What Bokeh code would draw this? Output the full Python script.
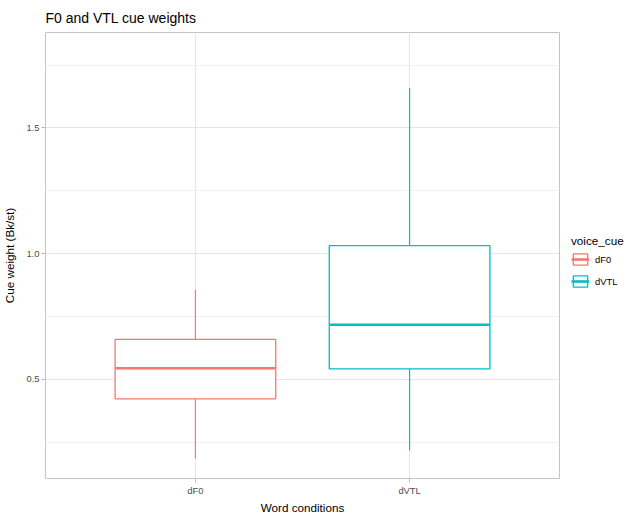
from bokeh.plotting import figure
from bokeh.models import (ColumnDataSource, FactorRange, Range1d, FixedTicker,
                          Legend, LegendItem, NumeralTickFormatter)
from bokeh.transform import dodge
from bokeh.embed import file_html
from bokeh.resources import INLINE

# ---- data ----
categories = ["dF0", "dVTL"]
colors = ["#F8766D", "#00BFC4"]
lower_whisker = [0.185, 0.216]
q1 = [0.422, 0.541]
median = [0.544, 0.717]
q3 = [0.659, 1.032]
upper_whisker = [0.855, 1.659]
y_ticks = [0.5, 1.0, 1.5]
y_minor = [0.25, 0.75, 1.25, 1.75]

FONT = "Liberation Sans"
FRAME_W, FRAME_H = 514, 446

src = ColumnDataSource(dict(cat=categories, color=colors, lo=lower_whisker,
                            q1=q1, med=median, q3=q3, hi=upper_whisker))

p = figure(width=619, height=506, frame_width=FRAME_W, frame_height=FRAME_H,
           output_backend="svg", toolbar_location=None,
           x_range=FactorRange(factors=categories, range_padding=0.2,
                               range_padding_units="absolute"),
           y_range=Range1d(0.105, 1.88),
           title="F0 and VTL cue weights",
           min_border_left=37, min_border_right=0, min_border_top=24,
           min_border_bottom=0)

p.background_fill_color = "white"
p.border_fill_color = "white"
p.outline_line_color = "#C4C4C4"
p.outline_line_width = 1

# title
p.title.text_font = FONT
p.title.text_font_size = "14px"
p.title.text_font_style = "normal"
p.title.text_color = "#000000"
p.title.align = "left"
p.title.standoff = 14

# axes
p.yaxis.ticker = FixedTicker(ticks=y_ticks, minor_ticks=y_minor)
p.yaxis.formatter = NumeralTickFormatter(format="0.0")
for ax in (p.xaxis[0], p.yaxis[0]):
    ax.axis_line_color = None
    ax.major_tick_line_color = "#B8B8B8"
    ax.major_tick_out = 4
    ax.major_tick_in = 0
    ax.minor_tick_line_color = None
    ax.major_label_text_font = FONT
    ax.major_label_text_font_size = "9.4px"
    ax.major_label_text_color = "#4D4D4D"
    ax.major_label_standoff = 2
    ax.axis_label_text_font = FONT
    ax.axis_label_text_font_size = "11.7px"
    ax.axis_label_text_font_style = "normal"
    ax.axis_label_text_color = "#000000"
    ax.axis_label_standoff = 2
p.yaxis.axis_label_standoff = 7
p.xaxis.axis_label = "Word conditions"
p.yaxis.axis_label = "Cue weight (Bk/st)"

# grid
p.xgrid.grid_line_color = "#E6E6E6"
p.xgrid.grid_line_width = 1
p.ygrid.grid_line_color = "#E6E6E6"
p.ygrid.grid_line_width = 1
p.ygrid.minor_grid_line_color = "#F1F1F1"
p.ygrid.minor_grid_line_width = 1

# whiskers
p.segment(x0="cat", y0="q3", x1="cat", y1="hi", source=src,
          line_color="color", line_width=1.2)
p.segment(x0="cat", y0="q1", x1="cat", y1="lo", source=src,
          line_color="color", line_width=1.2)
# boxes
box = p.vbar(x="cat", bottom="q1", top="q3", width=0.75, source=src,
             fill_color="white", line_color="color", line_width=1.3)
# medians
med = p.segment(x0=dodge("cat", -0.375, range=p.x_range), y0="med",
                x1=dodge("cat", 0.375, range=p.x_range), y1="med",
                source=src, line_color="color", line_width=2.6)

LEG_H = 66
legend = Legend(items=[LegendItem(label=categories[i], renderers=[box, med], index=i)
                       for i in range(len(categories))],
                title="voice_cue", location=(12, (FRAME_H - LEG_H) / 2))
legend.title_text_font = FONT
legend.title_text_font_size = "11.7px"
legend.title_text_font_style = "normal"
legend.title_text_color = "#000000"
legend.label_text_font = FONT
legend.label_text_font_size = "9.4px"
legend.label_text_color = "#000000"
legend.glyph_width = 18
legend.glyph_height = 14
legend.label_standoff = 6
legend.spacing = 8
legend.padding = 4
legend.margin = 0
legend.border_line_color = None
legend.background_fill_alpha = 0
p.add_layout(legend, "right")

open("out.html", "w").write(file_html(p, INLINE))
